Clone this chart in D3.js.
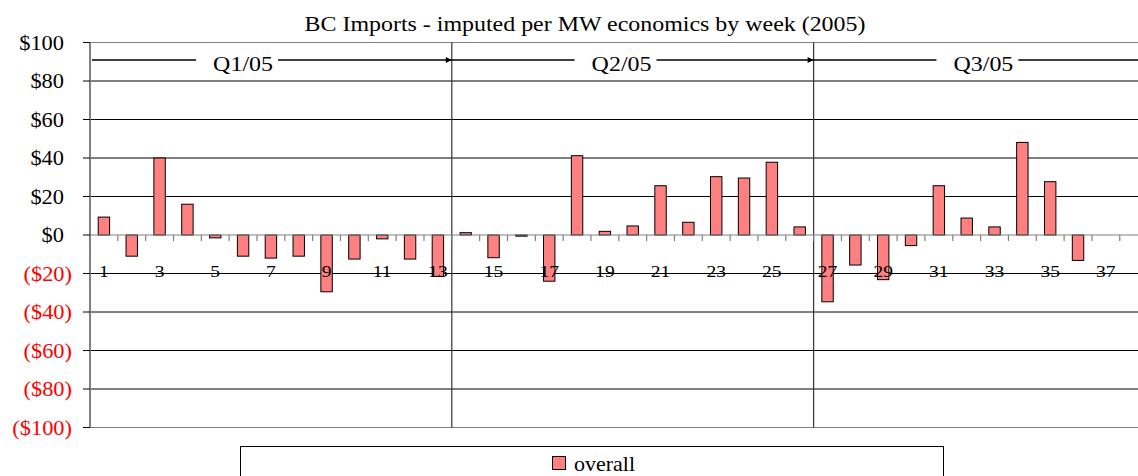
<!DOCTYPE html>
<html><head><meta charset="utf-8">
<script src="https://cdn.jsdelivr.net/npm/d3@7"></script>
<style>html,body{margin:0;padding:0;background:#fff;overflow:hidden}svg{display:block}text{font-family:"Liberation Serif","Times New Roman",serif}</style>
</head><body>
<script>
const weeks = ["1","2","3","4","5","6","7","8","9","10","11","12","13","14","15","16","17","18","19","20","21","22","23","24","25","26","27","28","29","30","31","32","33","34","35","36","37","38"];
const overall = [9.3,-11,40,16,-1.5,-11,-12,-11,-29.5,-12.5,-2,-12.5,-21.5,1.2,-11.8,-0.6,-24,41.2,1.9,4.7,25.6,6.6,30.3,29.6,37.8,4.2,-34.7,-15.6,-23.2,-5.5,25.6,8.8,4.2,48.1,27.7,-13.2,null,null];
const yTicks = [100,80,60,40,20,0,-20,-40,-60,-80,-100];
const xTickLabels = ["1","3","5","7","9","11","13","15","17","19","21","23","25","27","29","31","33","35","37"];
const quarterLabels = ["Q1/05","Q2/05","Q3/05"];
const quarterStart = ["1","14","27"];
const quarterEnd = ["13","26","38"];
const seriesName = "overall";
const title = "BC Imports - imputed per MW economics by week (2005)";

const W = 1138, H = 476;
const L = 90, R = 1147.6, T = 42.5, B = 427.5;
const svg = d3.select("body").append("svg").attr("width", W).attr("height", H);
const defs = svg.append("defs");
defs.append("marker").attr("id","arr").attr("viewBox","0 0 10 10").attr("refX",10).attr("refY",5)
  .attr("markerWidth",8).attr("markerHeight",6).attr("markerUnits","userSpaceOnUse").attr("orient","auto")
  .append("path").attr("d","M0,0L10,5L0,10z").attr("fill","#000");

const x = d3.scaleBand().domain(weeks).range([L, R]).padding(0);
const y = d3.scaleLinear().domain([-100, 100]).range([B, T]);
const bw = x.bandwidth() * 0.41;

function txt(g, s, px, py, size, sx, anchor, color) {
  return g.append("text").text(s).attr("font-size", size).attr("text-anchor", anchor || "middle")
    .attr("fill", color || "#000").attr("transform", `translate(${px},${py}) scale(${sx},1)`);
}

// gridlines
svg.append("g").selectAll("line").data(yTicks.filter(v => v !== 0 && v !== 100 && v !== -100)).join("line")
  .attr("x1", L).attr("x2", R).attr("y1", d => y(d)).attr("y2", d => y(d))
  .attr("stroke", "#000").attr("stroke-width", 1);
[100, -100].forEach(v => svg.append("line").attr("x1", L).attr("x2", R).attr("y1", y(v)).attr("y2", y(v)).attr("stroke", "#808080").attr("stroke-width", 1.2));

// quarter separators
const qg = svg.append("g");
quarterStart.slice(1).forEach(s => {
  qg.append("line").attr("x1", x(s)).attr("x2", x(s)).attr("y1", T).attr("y2", B).attr("stroke", "#333").attr("stroke-width", 1.2);
});

// bars
svg.append("g").selectAll("rect").data(weeks.map((w, i) => ({w, v: overall[i]})).filter(d => d.v !== null)).join("rect")
  .attr("x", d => x(d.w) + (x.bandwidth() - bw) / 2)
  .attr("width", bw)
  .attr("y", d => y(Math.max(0, d.v)))
  .attr("height", d => Math.abs(y(d.v) - y(0)))
  .attr("fill", "#FF8080").attr("stroke", "#000").attr("stroke-width", 1);

// x axis at zero
const xa = svg.append("g");
xa.append("line").attr("x1", L).attr("x2", R).attr("y1", y(0)).attr("y2", y(0)).attr("stroke", "#808080").attr("stroke-width", 1.2);
xa.selectAll("line.t").data(weeks).join("line").attr("class", "t")
  .attr("x1", d => x(d)).attr("x2", d => x(d)).attr("y1", y(0)).attr("y2", y(0) + 6)
  .attr("stroke", "#808080").attr("stroke-width", 1.2);
xTickLabels.forEach(l => txt(xa, l, x(l) + x.bandwidth() / 2, y(0) + 42, 17.5, 1.12));

// y axis
const ya = svg.append("g");
ya.append("line").attr("x1", L).attr("x2", L).attr("y1", T).attr("y2", B).attr("stroke", "#808080").attr("stroke-width", 2);
ya.selectAll("line.t").data(yTicks).join("line").attr("class", "t")
  .attr("x1", L - 7).attr("x2", L).attr("y1", d => y(d)).attr("y2", d => y(d)).attr("stroke", "#000");
const fmt = v => v < 0 ? `($${Math.abs(v)})` : `$${v}`;
yTicks.forEach(v => txt(ya, fmt(v), v < 0 ? 72 : 64, y(v) + 7, 20, 1.12, "end", v < 0 ? "#FF0000" : "#000"));

// quarter arrows
const labelOffset = [5.5, 6.1, 6.1];
quarterLabels.forEach((q, i) => {
  const x0 = x(quarterStart[i]) + (i === 0 ? 2 : 0);
  const x1 = x(quarterEnd[i]) + x.bandwidth();
  const ay = 60;
  qg.append("line").attr("x1", x0).attr("x2", x1).attr("y1", ay).attr("y2", ay)
    .attr("stroke", "#000").attr("stroke-width", 1.5).attr("marker-end", "url(#arr)");
  const cx = x(quarterStart[i]) + labelOffset[i] * x.bandwidth();
  const bg = qg.append("rect").attr("fill", "#fff");
  const t = txt(qg, q, cx, 71, 22, 1.09);
  const bb = t.node().getBBox();
  const wd = bb.width * 1.09;
  bg.attr("x", cx - wd / 2 - 17).attr("width", wd + 22).attr("y", ay - 4).attr("height", 8);
});

// title
txt(svg, title, 585, 31, 21, 1.14);

// legend
const lg = svg.append("g");
lg.append("rect").attr("x", 240.5).attr("y", 446.5).attr("width", 703).attr("height", 40).attr("fill", "#fff").attr("stroke", "#000");
lg.append("rect").attr("x", 552.5).attr("y", 456.5).attr("width", 13).attr("height", 13).attr("fill", "#FF8080").attr("stroke", "#000");
txt(lg, seriesName, 574, 471, 22, 1.0, "start");
</script>
</body></html>
